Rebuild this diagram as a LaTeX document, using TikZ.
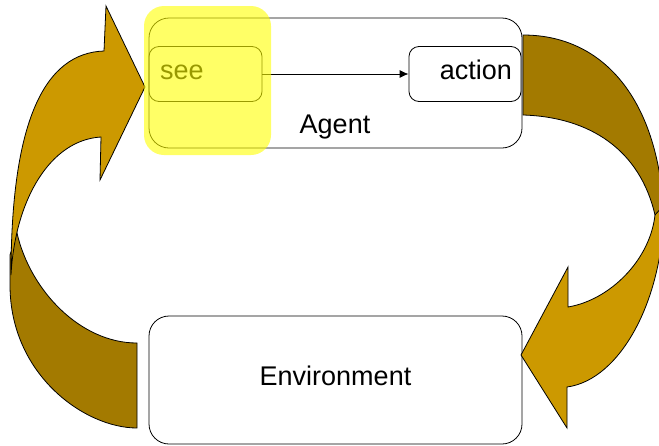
\documentclass[tikz,border=0pt]{standalone}
\usepackage{fontspec}
\setmainfont{Liberation Sans}
\usetikzlibrary{arrows.meta}
\definecolor{goldfront}{RGB}{204,153,0}
\definecolor{goldback}{RGB}{163,122,0}
\definecolor{marker}{RGB}{255,255,0}

\begin{document}
\begin{tikzpicture}[x=0.5pt, y=-0.5pt, >={Latex[length=4.5pt, width=4pt]},
      font=\fontsize{13.5}{16}\selectfont,
      block/.style={draw, rounded corners=10pt, line width=0.4pt, inner sep=0pt},
      unit/.style={draw, rounded corners=5pt, line width=0.4pt, minimum height=27.5pt,
                   text height=9.5pt, text depth=4.5pt},
      front/.style={fill=goldfront, draw=black, line width=0.4pt},
      back/.style={fill=goldback, draw=black, line width=0.4pt},
      highlight/.style={fill=marker, fill opacity=0.6, rounded corners=10pt}]

    \useasboundingbox (0,0) rectangle (659,445);

    % agent and its parts
    \node[block, minimum width=186.5pt, minimum height=65pt] (agent) at (335.5,83) {};
    \node[anchor=base] (agentname) at (335,133) {Agent};
    \node[unit, text width=45.5pt, inner xsep=5.5pt, align=left] (see) at (205.5,74) {see};
    \node[unit, text width=47pt, inner xsep=4.5pt, align=right] (action) at (465,74) {action};
    \draw[->, line width=0.4pt] (see) -- (action);

    % environment
    \node[block, minimum width=186.5pt, minimum height=64pt, text depth=4.7pt] (env) at (335.5,380) {Environment};

    % curved arrow, agent to environment
    \path[back] (523,115) -- (523,35) .. controls (610,35) and (664,110) .. (664,230)
        -- (655,215) .. controls (640,150) and (590,117) .. (523,115) -- cycle;
    \path[front] (655,215) .. controls (650,260) and (610,300) .. (568,307) -- (568,267)
        -- (521,355) -- (567,428) -- (567,387) .. controls (620,380) and (664,300) .. (664,205) -- cycle;

    % curved arrow, environment to agent
    \path[back] (137,343) .. controls (80,343) and (30,290) .. (17,233) -- (10,255) -- (10,285)
        .. controls (10,375) and (85,428) .. (137,428) -- cycle;
    \path[front] (11,275) .. controls (11,120) and (45,53) .. (104,51) -- (106,6) -- (145,87)
        -- (100,180) -- (101,137) .. controls (50,140) and (15,200) .. (11,275) -- cycle;

    % marker over see
    \fill[highlight] (144,6) rectangle (271,155);
  \end{tikzpicture}
\end{document}
